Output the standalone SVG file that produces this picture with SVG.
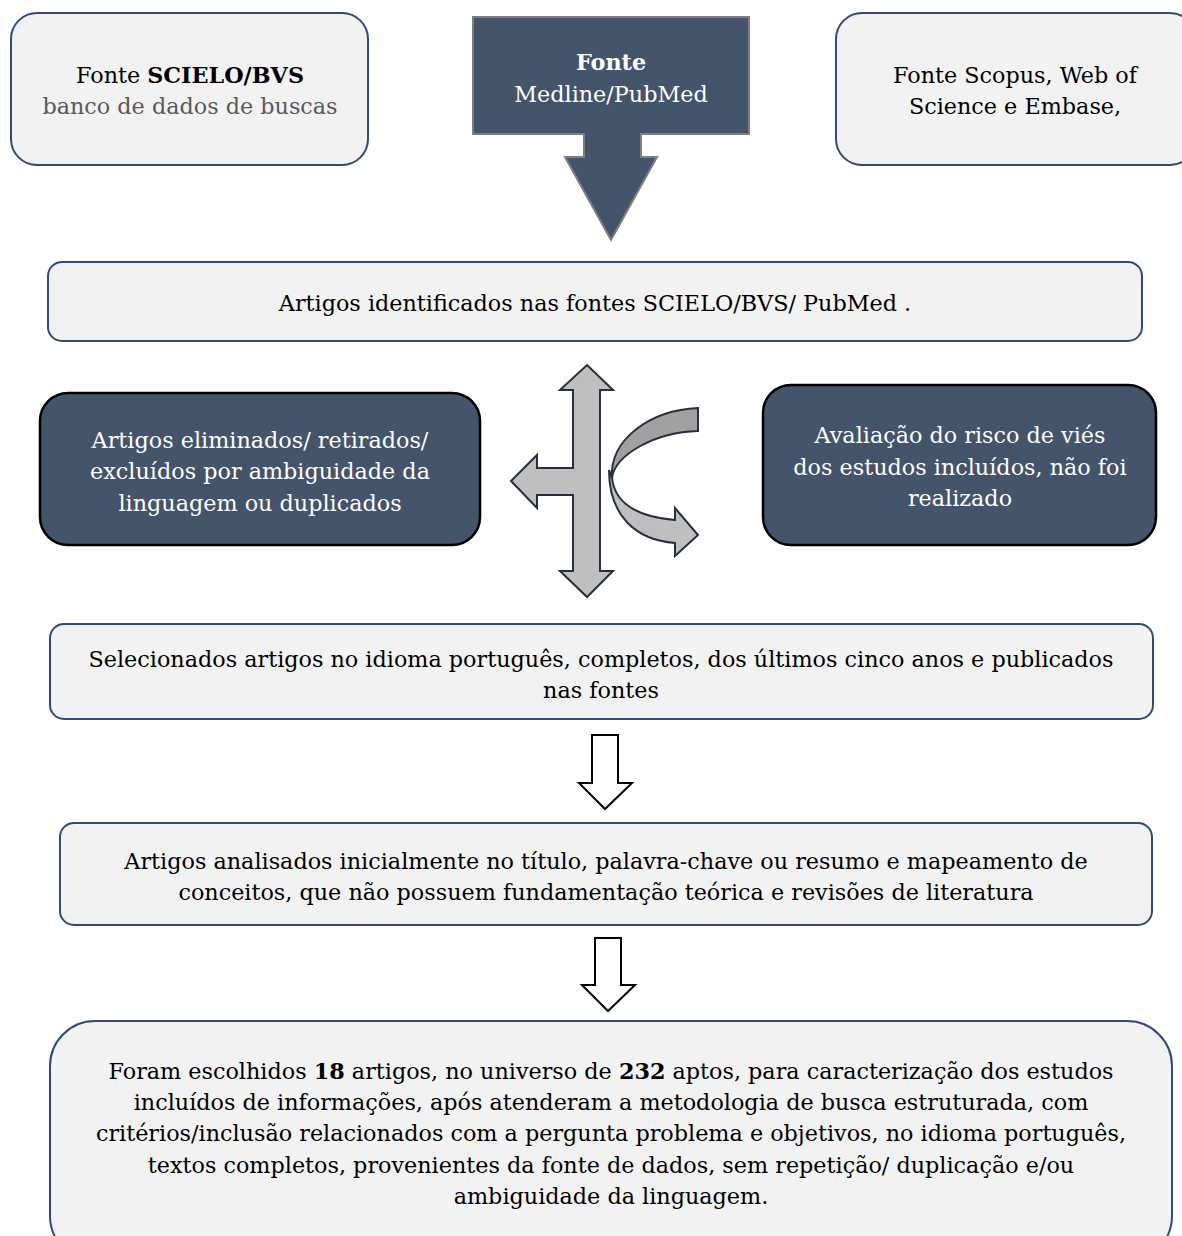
<svg xmlns="http://www.w3.org/2000/svg" width="1182" height="1236" viewBox="0 0 1182 1236">
<style>
.lb{fill:#f2f2f2;stroke:#2f4b7c;stroke-width:2}
.db{fill:#44546a;stroke:#000;stroke-width:2.5}
text{font-family:"DejaVu Serif","Liberation Serif",serif;font-size:22.3px;text-anchor:middle;fill:#000}
.w{fill:#fff}
.g{fill:#595959}
.b{font-weight:bold}
.ha{fill:#fff;stroke:#000;stroke-width:2}
</style>
<rect width="1182" height="1236" fill="#fff"/>
<g id="n-scielo">
<rect class="lb" x="11" y="13" width="357" height="152" rx="26"/>
<text x="190" y="83">Fonte <tspan class="b">SCIELO/BVS</tspan></text>
<text x="190" y="114" class="g">banco de dados de buscas</text>
</g>
<g id="n-medline">
<path d="M473,17 H749 V134 H641 V157 H657 L611,240 L565,157 H584 V134 H473 Z" fill="#44546a" stroke="#7f7f7f" stroke-width="2"/>
<text x="611" y="70" class="w b">Fonte</text>
<text x="611" y="102" class="w">Medline/PubMed</text>
</g>
<g id="n-scopus">
<rect class="lb" x="836" y="13" width="360" height="152" rx="26"/>
<text x="1015" y="83">Fonte Scopus, Web of</text>
<text x="1015" y="114">Science e Embase,</text>
</g>
<g id="n-identificados">
<rect class="lb" x="48" y="262" width="1094" height="79" rx="14"/>
<text x="595" y="311">Artigos identificados nas fontes SCIELO/BVS/ PubMed .</text>
</g>
<g id="n-eliminados">
<rect class="db" x="40" y="393" width="440" height="152" rx="28"/>
<text x="260" y="448" class="w">Artigos eliminados/ retirados/</text>
<text x="260" y="479" class="w">excluídos por ambiguidade da</text>
<text x="260" y="511" class="w">linguagem ou duplicados</text>
</g>
<g id="n-risco">
<rect class="db" x="763" y="385" width="393" height="160" rx="28"/>
<text x="960" y="443" class="w">Avaliação do risco de viés</text>
<text x="960" y="475" class="w">dos estudos incluídos, não foi</text>
<text x="960" y="506" class="w">realizado</text>
</g>
<g id="n-selecionados">
<rect class="lb" x="50" y="624" width="1103" height="95" rx="14"/>
<text x="601" y="667">Selecionados artigos no idioma português, completos, dos últimos cinco anos e publicados</text>
<text x="601" y="698">nas fontes</text>
</g>
<g id="n-analisados">
<rect class="lb" x="60" y="823" width="1092" height="102" rx="14"/>
<text x="606" y="869">Artigos analisados inicialmente no título, palavra-chave ou resumo e mapeamento de</text>
<text x="606" y="900">conceitos, que não possuem fundamentação teórica e revisões de literatura</text>
</g>
<g id="n-escolhidos">
<rect class="lb" x="50" y="1021" width="1122" height="240" rx="45"/>
<text x="611" y="1079">Foram escolhidos <tspan class="b">18</tspan> artigos, no universo de <tspan class="b">232</tspan> aptos, para caracterização dos estudos</text>
<text x="611" y="1110">incluídos de informações, após atenderam a metodologia de busca estruturada, com</text>
<text x="611" y="1141">critérios/inclusão relacionados com a pergunta problema e objetivos, no idioma português,</text>
<text x="611" y="1173">textos completos, provenientes da fonte de dados, sem repetição/ duplicação e/ou</text>
<text x="611" y="1204">ambiguidade da linguagem.</text>
</g>
<g id="connectors">
<polygon points="587,365 613,390 600,390 600,571 613,571 587,597 560,571 573,571 573,495 537,495 537,508 511,481 537,455 537,468 573,468 573,390 560,390" fill="#bfbfbf" stroke="#262f3b" stroke-width="2"/>
<path d="M698,408 L698,431 C655,432 615,455 612,478 C609,440 650,410 698,408 Z" fill="#a0a0a0" stroke="#262f3b" stroke-width="2"/>
<path d="M612,478 C615,505 640,517 675,520 L675,508 L698,535 L675,556 L675,543 C635,540 609,515 609,470 Z" fill="#bfbfbf" stroke="#262f3b" stroke-width="2"/>
<polygon class="ha" points="592,735 618,735 618,783 632,783 605,809 579,783 592,783"/>
<polygon class="ha" points="595,938 621,938 621,985 635,985 608,1011 582,985 595,985"/>
</g>
</svg>
